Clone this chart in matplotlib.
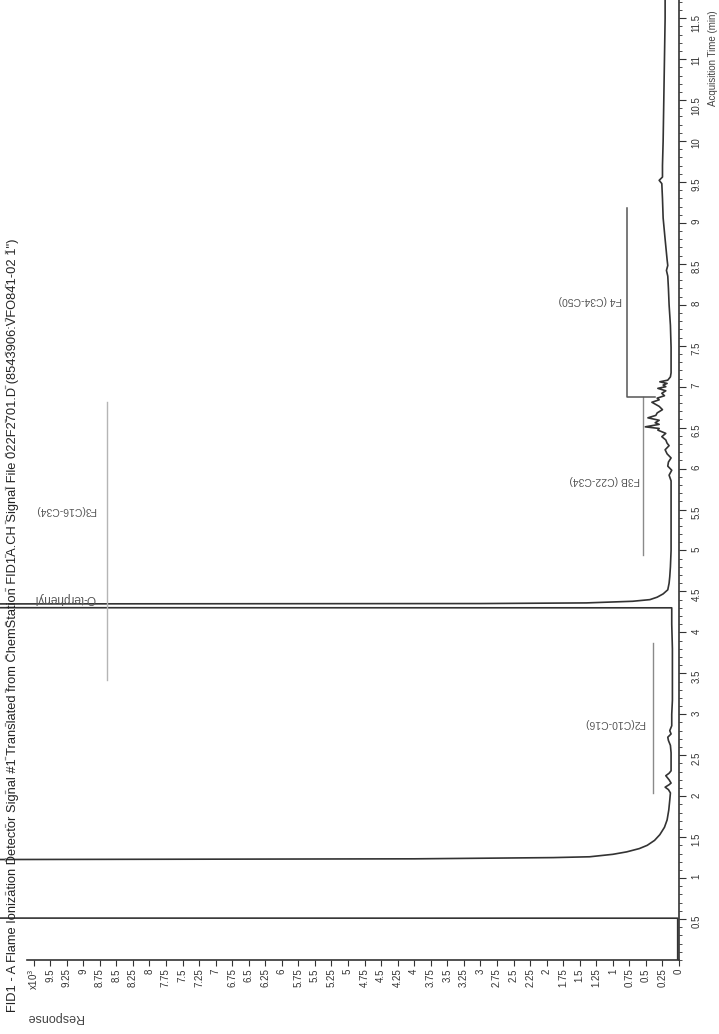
import numpy as np
import matplotlib
matplotlib.use("Agg")
import matplotlib.pyplot as plt
from matplotlib.lines import Line2D
from matplotlib.ticker import FixedLocator, MultipleLocator, FuncFormatter

plt.rcParams['font.family'] = ['Liberation Sans Narrow', 'Liberation Sans', 'DejaVu Sans']

# chromatogram trace: acquisition time (min) vs response (x10^3)
time_min = [0.0, 0.50, 0.51, 0.512, 1.22, 1.235, 1.25, 1.26, 1.29, 1.32,
            1.36, 1.40, 1.46, 1.53, 1.62, 1.71, 1.83, 1.95, 2.04, 2.08,
            2.11, 2.14, 2.16, 2.20, 2.25, 2.28, 2.31, 2.40, 2.53, 2.62,
            2.68, 2.72, 2.76, 2.80, 2.86, 3.0, 3.17, 3.5, 3.8, 4.1,
            4.28, 4.30, 4.302, 4.345, 4.352, 4.36, 4.38, 4.40, 4.43, 4.47,
            4.52, 4.60, 4.68, 4.80, 5.0, 5.3, 5.62, 5.85, 5.92, 5.98,
            6.03, 6.08, 6.13, 6.18, 6.23, 6.28, 6.31, 6.35, 6.39, 6.43,
            6.47, 6.49, 6.51, 6.54, 6.56, 6.59, 6.62, 6.65, 6.68, 6.72,
            6.76, 6.81, 6.84, 6.86, 6.89, 6.92, 6.95, 6.98, 7.00, 7.02,
            7.04, 7.06, 7.08, 7.12, 7.17, 7.3, 7.48, 7.75, 8.0, 8.2,
            8.35, 8.42, 8.48, 8.55, 8.8, 9.06, 9.3, 9.48, 9.52, 9.56,
            9.7, 10.0, 10.5, 11.0, 11.5, 11.72]
response_k = [0.02, 0.02, 0.02, 15, 15, 4.0, 1.9, 1.35, 1.0, 0.79,
              0.6, 0.48, 0.37, 0.29, 0.22, 0.18, 0.155, 0.14, 0.13, 0.16,
              0.21, 0.15, 0.12, 0.15, 0.20, 0.15, 0.12, 0.12, 0.12, 0.13,
              0.16, 0.17, 0.12, 0.14, 0.11, 0.11, 0.10, 0.10, 0.10, 0.11,
              0.11, 0.11, 15, 15, 3.0, 1.4, 0.7, 0.44, 0.33, 0.24,
              0.17, 0.15, 0.14, 0.13, 0.12, 0.12, 0.12, 0.12, 0.15, 0.11,
              0.17, 0.16, 0.12, 0.18, 0.21, 0.15, 0.18, 0.2, 0.26, 0.2,
              0.32, 0.3, 0.51, 0.3, 0.36, 0.3, 0.47, 0.35, 0.33, 0.25,
              0.3, 0.41, 0.3, 0.33, 0.22, 0.26, 0.2, 0.32, 0.2, 0.24,
              0.18, 0.29, 0.17, 0.13, 0.12, 0.12, 0.12, 0.13, 0.15, 0.16,
              0.17, 0.19, 0.17, 0.18, 0.21, 0.24, 0.25, 0.26, 0.30, 0.25,
              0.25, 0.24, 0.23, 0.22, 0.21, 0.21]

# carbon range markers
range_labels = ['F2(C10-C16)', 'F3B (C22-C34)', 'F3(C16-C34)']
range_resp = [0.39, 0.54, 8.64]
range_start = [2.04, 4.94, 3.42]
range_end = [3.87, 6.87, 6.81]
range_text_resp = [0.97, 1.12, 9.27]
range_text_time = [2.89, 5.86, 5.49]

f4_resp = [0.36, 0.79, 0.79]
f4_time = [6.87, 6.87, 9.18]

title = ('FID1 - A Flame Ionization Detector Signal #1 Translated from ChemStation '
         'FID1A.CH Signal File 022F2701.D (8543906:VFO841-02 1")')

fig = plt.figure(figsize=(7.19, 10.34), dpi=100)
ax = fig.add_axes([0, 0.0716, 0.9444, 0.9284])

ax.plot(response_k, time_min, color='#333333', lw=1.2)

for lab, r, t0, t1, tr, tt in zip(range_labels, range_resp, range_start, range_end,
                                   range_text_resp, range_text_time):
    col = '#b5b5b5' if lab.startswith('F3(') else '#8a8a8a'
    ax.plot([r, r], [t0, t1], color=col, lw=1)
    ax.text(tr, tt, lab, rotation=180, ha='center', va='center', fontsize=7.5, color='#555555')

ax.plot(f4_resp, f4_time, color='#555555', lw=1.1)
ax.text(1.34, 8.06, 'F4 (C34-C50)', rotation=180, ha='center', va='center', fontsize=7.5, color='#555555')
ax.text(9.27, 4.42, 'O-terphenyl', rotation=180, ha='center', va='center', fontsize=8.5, color='#555555')

ax.set_xlim(10.257, 0)
ax.set_ylim(0, 11.722)

for s in ['top', 'left']:
    ax.spines[s].set_visible(False)
ax.spines['bottom'].set_bounds(0, 9.85)
ax.spines['right'].set_color('#333333')
ax.spines['bottom'].set_color('#333333')
ax.spines['right'].set_linewidth(1.2)
ax.spines['bottom'].set_linewidth(1.2)

ax.yaxis.tick_right()
ax.yaxis.set_major_locator(FixedLocator(np.arange(0.5, 11.51, 0.5)))
ax.yaxis.set_minor_locator(MultipleLocator(0.1))
ax.yaxis.set_major_formatter(FuncFormatter(lambda v, p: '%g' % v))
ax.tick_params(axis='y', which='major', direction='out', length=5, pad=4,
               labelsize=7, labelrotation=90, colors='#333333')
ax.tick_params(axis='y', which='minor', direction='out', length=2, colors='#333333')

xt = np.arange(0, 9.76, 0.25)
ax.set_xticks(xt)
ax.set_xticklabels(['%g' % v for v in xt[:-1]] + ['x10$^3$'])
ax.tick_params(axis='x', which='major', direction='out', length=4, pad=2,
               labelsize=7, labelrotation=90, colors='#333333')

fig.text(0.018, 0.021, title, rotation=90, ha='center', va='bottom', fontsize=9.3, color='#222222')
fig.text(55 / 719, 1 - 1017 / 1034, 'Response', rotation=180, ha='center', va='center',
         fontsize=9, color='#444444')
fig.text(713 / 719, 1 - 58 / 1034, 'Acquisition Time (min)', rotation=90, ha='center',
         va='center', fontsize=7, color='#444444')

# cut-off marks along the left edge of the scan
fig.add_artist(Line2D([5 / 719, 5 / 719], [1 - 250 / 1034, 1 - 900 / 1034],
                      color='#888888', lw=0.9, dashes=(3, 24)))

fig.savefig('out.png', dpi=100)
